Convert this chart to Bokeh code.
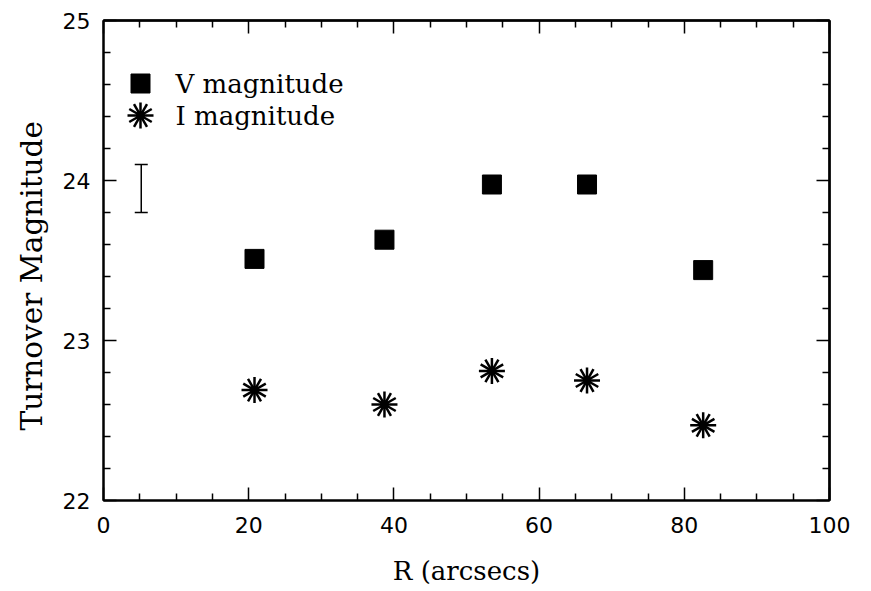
from bokeh.plotting import figure
from bokeh.models import (Range1d, FixedTicker, LinearAxis, Title,
                          Whisker, ColumnDataSource, TeeHead)
from bokeh.core.properties import value
from bokeh.embed import file_html
from bokeh.resources import INLINE

# ---- data ----
R_arcsec = [20.8, 38.7, 53.5, 66.6, 82.6]
V_mag = [23.51, 23.63, 23.975, 23.975, 23.44]
I_mag = [22.69, 22.60, 22.81, 22.75, 22.47]
err_x = [5.2]
err_upper = [24.1]
err_lower = [23.8]
legend_labels = ["V magnitude", "I magnitude"]
x_label = "R (arcsecs)"
y_label = "Turnover Magnitude"
x_major = [0, 20, 40, 60, 80, 100]
x_minor = [5, 10, 15, 25, 30, 35, 45, 50, 55, 65, 70, 75, 85, 90, 95]
y_major = [22, 23, 24, 25]
y_minor = [22.2, 22.4, 22.6, 22.8, 23.2, 23.4, 23.6, 23.8, 24.2, 24.4, 24.6, 24.8]

# ---- layout ----
W, H = 871, 591
L, RB, T, B = 103, 42, 20, 91
X0, X1, Y0, Y1 = 0, 100, 22, 25
FW, FH = W - L - RB, H - T - B

def dx(px):
    return X0 + (px - L) / FW * (X1 - X0)

def dy(py):
    return Y1 - (py - T) / FH * (Y1 - Y0)

SERIF = "DejaVu Serif"
SANS = "DejaVu Sans"

p = figure(width=W, height=H, x_range=Range1d(X0, X1), y_range=Range1d(Y0, Y1),
           output_backend="svg", toolbar_location=None,
           min_border_left=L, min_border_right=RB, min_border_top=T, min_border_bottom=B)
p.grid.visible = False
p.outline_line_color = "black"
p.outline_line_width = 2
p.background_fill_color = "white"
p.border_fill_color = "white"

def style_axis(ax):
    ax.axis_line_width = 2
    ax.axis_line_color = "black"
    ax.major_tick_in = 13
    ax.major_tick_out = 0
    ax.minor_tick_in = 7
    ax.minor_tick_out = 0
    ax.major_tick_line_width = 1.5
    ax.minor_tick_line_width = 1.5
    ax.major_tick_line_color = "black"
    ax.minor_tick_line_color = "black"
    ax.major_label_text_font = SANS
    ax.major_label_text_font_size = "22px"
    ax.major_label_text_color = "black"

p.xaxis.ticker = FixedTicker(ticks=x_major, minor_ticks=x_minor)
p.yaxis.ticker = FixedTicker(ticks=y_major, minor_ticks=y_minor)
style_axis(p.xaxis[0])
style_axis(p.yaxis[0])
p.xaxis.major_label_standoff = 16
p.yaxis.major_label_standoff = 13

# x-axis title
p.xaxis.axis_label = x_label
p.xaxis.axis_label_text_font = SERIF
p.xaxis.axis_label_text_font_size = "26px"
p.xaxis.axis_label_text_font_style = "normal"
p.xaxis.axis_label_text_color = "black"
p.xaxis.axis_label_standoff = 20

# unlabeled tick axes on top and right (ticks drawn as "minor" ticks of two lengths)
def tick_only_axis(ticks, length, side):
    ax = LinearAxis(ticker=FixedTicker(ticks=[], minor_ticks=ticks))
    ax.axis_line_width = 2
    ax.axis_line_color = "black"
    ax.minor_tick_in = length
    ax.minor_tick_out = 0
    ax.minor_tick_line_width = 1.5
    ax.minor_tick_line_color = "black"
    ax.major_tick_in = 0
    ax.major_tick_out = 0
    p.add_layout(ax, side)

tick_only_axis(x_minor, 7, "above")
tick_only_axis(x_major, 13, "above")
tick_only_axis(y_minor, 7, "right")
tick_only_axis(y_major, 13, "right")

# ---- data marks ----
p.scatter(R_arcsec, V_mag, marker="square", size=19, fill_color="black", line_color="black")

def star(xs, ys, size):
    for ang in range(0, 180, 30):
        p.scatter(xs, ys, marker="dash", size=size, angle=ang, angle_units="deg",
                  line_color="black", line_width=2.5)
    p.scatter(xs, ys, marker="circle", size=8, fill_color="black", line_color="black")

star(R_arcsec, I_mag, 26)

# error bar
src = ColumnDataSource(dict(x=err_x, up=err_upper, lo=err_lower))
p.add_layout(Whisker(source=src, base="x", upper="up", lower="lo", dimension="height",
                     line_color="black", line_width=1.5,
                     upper_head=TeeHead(size=13, line_width=1.5, line_color="black"),
                     lower_head=TeeHead(size=13, line_width=1.5, line_color="black")))

# ---- legend (manual) ----
p.scatter([dx(140)], [dy(83)], marker="square", size=19, fill_color="black", line_color="black")
star([dx(140)], [dy(115)], 26)
p.text([dx(175), dx(175)], [dy(83), dy(115)], text=legend_labels,
       text_font=value(SERIF), text_font_size="26px", text_baseline="middle",
       text_align="left", text_color="black")

# ---- y-axis title ----
p.add_layout(Title(text=y_label, align="left", offset=70, standoff=21,
                   text_font=SERIF, text_font_size="29.5px", text_font_style="normal",
                   text_color="black"), "left")

open("out.html", "w").write(file_html(p, INLINE))
